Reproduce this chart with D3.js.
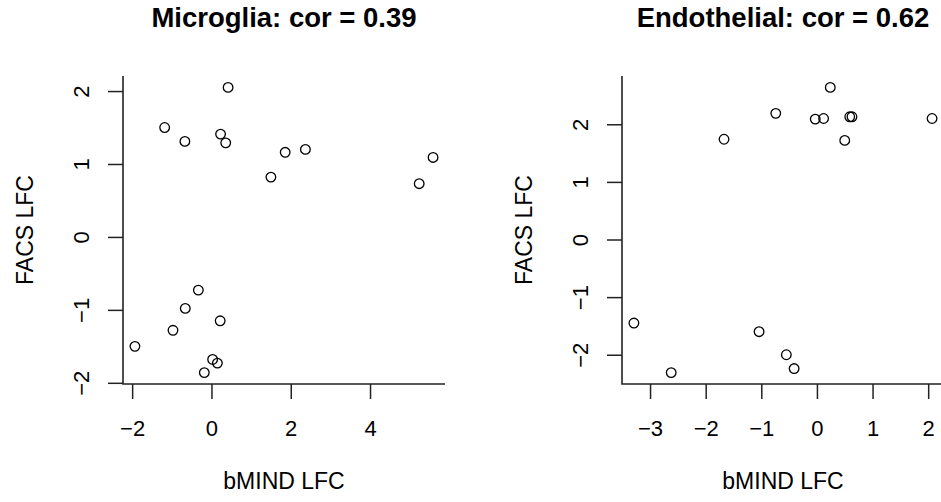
<!DOCTYPE html>
<html>
<head>
<meta charset="utf-8">
<script src="https://cdn.jsdelivr.net/npm/d3@7"></script>
<style>
  body { margin: 0; background: white; }
  text { font-family: "Liberation Sans", Arial, Helvetica, sans-serif; fill: black; }
</style>
</head>
<body>
<svg id="chart"></svg>
<script>
var svg_width = 941
var svg_height = 502

// microglia panel
var microgliaX = [0.42, -1.18, -0.67, 0.23, 0.36, 1.86, 2.37, 1.50, 5.59, 5.24,
                  -0.33, -0.66, -0.97, 0.22, -1.93, 0.03, 0.15, -0.18];
var microgliaY = [2.05, 1.50, 1.31, 1.41, 1.29, 1.16, 1.20, 0.82, 1.09, 0.73,
                  -0.73, -0.98, -1.28, -1.15, -1.50, -1.68, -1.73, -1.86];
var microgliaXTicks = [-2, 0, 2, 4];
var microgliaYTicks = [-2, -1, 0, 1, 2];

// endothelial panel
var endoX = [0.24, -0.74, -0.03, 0.12, 0.59, 0.63, 0.50, 2.07, -1.67,
             -3.29, -1.04, -0.55, -0.41, -2.62];
var endoY = [2.64, 2.19, 2.09, 2.10, 2.13, 2.13, 1.72, 2.10, 1.74,
             -1.45, -1.60, -2.00, -2.24, -2.31];
var endoXTicks = [-3, -2, -1, 0, 1, 2];
var endoYTicks = [-2, -1, 0, 1, 2];

var titles = ["Microglia: cor = 0.39", "Endothelial: cor = 0.62"];
var xLabel = "bMIND LFC";
var yLabel = "FACS LFC";

var svg = d3.select("#chart")
  .attr("width", svg_width)
  .attr("height", svg_height);

var intFormat = d3.format("d");

// R style range: data extent padded by 4% each side
function padded(values) {
  var ext = d3.extent(values);
  var pad = (ext[1] - ext[0]) * 0.04;
  return [ext[0] - pad, ext[1] + pad];
}

function drawPanel(left, xs, ys, xTicks, yTicks, title) {
  var top = 76, bottom = 384, w = 322;
  var right = left + w;

  var x = d3.scaleLinear().domain(padded(xs)).range([left, right]);
  var y = d3.scaleLinear().domain(padded(ys)).range([bottom, top]);

  var g = svg.append("g");

  // x axis
  var xa = g.append("g")
    .attr("transform", "translate(0," + bottom + ")")
    .call(d3.axisBottom(x).tickValues(xTicks).tickFormat(intFormat).tickSize(15).tickSizeOuter(0));
  xa.select(".domain").remove();
  xa.selectAll("line").attr("stroke", "#222").attr("stroke-width", 1.5);
  xa.selectAll("text")
    .attr("y", 52).attr("dy", null)
    .style("font-size", "22px");

  // y axis, labels turned like R's las=0
  var ya = g.append("g")
    .attr("transform", "translate(" + left + ",0)")
    .call(d3.axisLeft(y).tickValues(yTicks).tickFormat(intFormat).tickSize(15).tickSizeOuter(0));
  ya.select(".domain").remove();
  ya.selectAll("line").attr("stroke", "#222").attr("stroke-width", 1.5);
  ya.selectAll("text")
    .attr("x", 0).attr("dy", null)
    .attr("text-anchor", "middle")
    .attr("transform", "translate(-34,0) rotate(-90)")
    .style("font-size", "22px");

  // L shaped box
  g.append("path")
    .attr("d", "M" + left + "," + top + "V" + bottom + "H" + right)
    .attr("fill", "none")
    .attr("stroke", "#222")
    .attr("stroke-width", 1.6);

  g.selectAll("circle")
    .data(xs.map(function(d, i) { return { x: d, y: ys[i] }; }))
    .enter()
    .append("circle")
    .attr("cx", function(d) { return x(d.x); })
    .attr("cy", function(d) { return y(d.y); })
    .attr("r", 4.8)
    .attr("fill", "none")
    .attr("stroke", "black")
    .attr("stroke-width", 1.3);

  g.append("text")
    .attr("x", (left + right) / 2)
    .attr("y", 27)
    .attr("text-anchor", "middle")
    .style("font-size", "27.5px")
    .style("font-weight", "bold")
    .text(title);

  g.append("text")
    .attr("x", (left + right) / 2)
    .attr("y", 489)
    .attr("text-anchor", "middle")
    .style("font-size", "23px")
    .text(xLabel);

  g.append("text")
    .attr("transform", "translate(" + (left - 90) + "," + (top + bottom) / 2 + ") rotate(-90)")
    .attr("text-anchor", "middle")
    .style("font-size", "23px")
    .text(yLabel);
}

drawPanel(123, microgliaX, microgliaY, microgliaXTicks, microgliaYTicks, titles[0]);
drawPanel(622, endoX, endoY, endoXTicks, endoYTicks, titles[1]);
</script>
</body>
</html>
